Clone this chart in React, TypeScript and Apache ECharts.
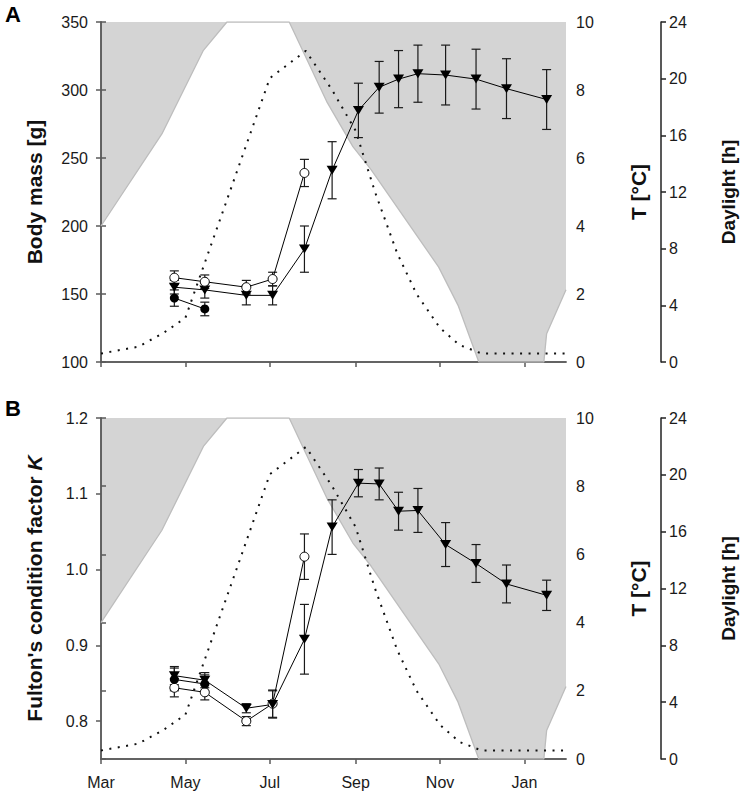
import React, { useEffect, useRef } from "react";
import * as echarts from "echarts";

// ---------- data ----------
const axisStartDate = "2014-03-01";
const axisEndDate = "2015-01-31";
const monthTickDates = ["2014-03-01", "2014-05-01", "2014-07-01", "2014-09-01", "2014-11-01", "2015-01-01"];
const monthTickLabels = ["Mar", "May", "Jul", "Sep", "Nov", "Jan"];

const triDates = ["2014-04-23", "2014-05-15", "2014-06-14", "2014-07-03", "2014-07-26", "2014-08-15", "2014-09-03", "2014-09-18", "2014-10-02", "2014-10-16", "2014-11-05", "2014-11-27", "2014-12-19", "2015-01-17"];
const openDates = ["2014-04-23", "2014-05-15", "2014-06-14", "2014-07-03", "2014-07-26"];
const filledDates = ["2014-04-23", "2014-05-15"];

const massTri = [155, 153, 149, 149, 183, 241, 285, 302, 308, 312, 311, 308, 301, 293];
const massTriErr = [5, 6, 7, 7, 17, 21, 20, 19, 21, 21, 22, 22, 22, 22];
const massOpen = [162, 159, 155, 161, 239];
const massOpenErr = [5, 5, 5, 5, 10];
const massFilled = [147, 139];
const massFilledErr = [6, 5];

const condTri = [0.86, 0.854, 0.817, 0.822, 0.908, 1.056, 1.114, 1.113, 1.077, 1.078, 1.033, 1.008, 0.981, 0.966];
const condTriErr = [0.012, 0.01, 0.006, 0.018, 0.046, 0.036, 0.018, 0.021, 0.025, 0.029, 0.029, 0.025, 0.025, 0.02];
const condOpen = [0.844, 0.838, 0.8, 0.823, 1.017];
const condOpenErr = [0.012, 0.01, 0.006, 0.018, 0.03];
const condFilled = [0.855, 0.849];
const condFilledErr = [0.015, 0.012];

const tempDates = ["2014-03-01", "2014-03-28", "2014-04-15", "2014-05-01", "2014-07-01", "2014-07-27", "2014-08-15", "2014-09-01", "2014-09-15", "2014-10-01", "2014-10-15", "2014-11-01", "2014-11-15", "2014-12-01", "2015-01-31"];
const tempValues = [0.25, 0.45, 0.85, 1.3, 8.35, 9.15, 8.0, 6.8, 5.0, 3.2, 2.0, 1.0, 0.5, 0.25, 0.25];

const daylightDates = ["2014-03-01", "2014-04-14", "2014-05-14", "2014-05-31", "2014-07-15", "2014-08-11", "2014-08-30", "2014-09-12", "2014-10-31", "2014-11-14", "2014-11-29", "2015-01-15", "2015-01-17", "2015-01-31"];
const daylightHours = [9.6, 16.1, 22.0, 24, 24, 18.4, 15.2, 13.6, 6.7, 4.0, 0, 0, 2.0, 5.1];

const massTicks = { min: 100, max: 350, interval: 50 };
const condTickValues = [0.8, 0.9, 1.0, 1.1, 1.2];
const condRange = { min: 0.75, max: 1.2 };
const tempTicks = { min: 0, max: 10, interval: 2 };
const dayTicks = { min: 0, max: 24, interval: 4 };

// ---------- helpers ----------
function dayIndex(s: string): number {
  const [y, m, d] = s.split("-").map(Number);
  const [y0, m0, d0] = axisStartDate.split("-").map(Number);
  return (Date.UTC(y, m - 1, d) - Date.UTC(y0, m0 - 1, d0)) / 86400000;
}

const FONT = "Arial, 'Liberation Sans', sans-serif";
const AXIS_COLOR = "#5a5a5a";
const monthDays = monthTickDates.map(dayIndex);
const xMax = dayIndex(axisEndDate);

function pairs(dates: string[], vals: number[]) {
  return dates.map((d, i) => [dayIndex(d), vals[i]]);
}

function errorSeries(dates: string[], vals: number[], errs: number[], xi: number, yi: number) {
  return {
    type: "custom",
    xAxisIndex: xi,
    yAxisIndex: yi,
    z: 5,
    silent: true,
    clip: false,
    encode: { x: 0, y: [1, 2] },
    data: dates.map((d, i) => [dayIndex(d), vals[i] - errs[i], vals[i] + errs[i]]),
    renderItem: (_params: any, api: any) => {
      const x = api.value(0);
      const lo = api.coord([x, api.value(1)]);
      const hi = api.coord([x, api.value(2)]);
      const hw = 4.5;
      const style = { stroke: "#1a1a1a", lineWidth: 1.2, fill: null };
      return {
        type: "group",
        children: [
          { type: "line", shape: { x1: lo[0], y1: lo[1], x2: hi[0], y2: hi[1] }, style },
          { type: "line", shape: { x1: lo[0] - hw, y1: lo[1], x2: lo[0] + hw, y2: lo[1] }, style },
          { type: "line", shape: { x1: hi[0] - hw, y1: hi[1], x2: hi[0] + hw, y2: hi[1] }, style },
        ],
      };
    },
  };
}

function markerSeries(dates: string[], vals: number[], kind: "tri" | "open" | "filled", xi: number, yi: number) {
  const base: any = {
    type: "line",
    xAxisIndex: xi,
    yAxisIndex: yi,
    z: 6,
    data: pairs(dates, vals),
    showAllSymbol: true,
    lineStyle: { color: "#000", width: 1 },
    emphasis: { disabled: true },
  };
  if (kind === "tri") {
    base.symbol = "triangle";
    base.symbolRotate = 180;
    base.symbolSize = [11, 9];
    base.itemStyle = { color: "#000" };
  } else if (kind === "open") {
    base.symbol = "circle";
    base.symbolSize = 9;
    base.itemStyle = { color: "#fff", borderColor: "#000", borderWidth: 1 };
  } else {
    base.symbol = "circle";
    base.symbolSize = 9;
    base.itemStyle = { color: "#000" };
  }
  return base;
}

function envSeries(xi: number, yiT: number, yiD: number) {
  return [
    {
      type: "line",
      xAxisIndex: xi,
      yAxisIndex: yiD,
      z: 1,
      silent: true,
      symbol: "none",
      data: pairs(daylightDates, daylightHours),
      lineStyle: { width: 0, opacity: 0 },
      areaStyle: { color: "#d4d4d4", opacity: 1, origin: "end" },
    },
    {
      type: "line",
      xAxisIndex: xi,
      yAxisIndex: yiD,
      z: 3,
      silent: true,
      symbol: "none",
      data: pairs(daylightDates, daylightHours),
      lineStyle: { width: 1.3, color: "#bdbdbd" },
    },
    {
      type: "line",
      xAxisIndex: xi,
      yAxisIndex: yiT,
      z: 4,
      silent: true,
      symbol: "none",
      data: pairs(tempDates, tempValues),
      lineStyle: { width: 2, color: "#111", type: [2, 6.5] },
    },
  ];
}

const axisLine = { show: true, lineStyle: { color: AXIS_COLOR, width: 1.5 } };
const axisTick = { show: true, inside: false, length: 5, lineStyle: { color: AXIS_COLOR, width: 1.5 } };
const labelStyle = { fontFamily: FONT, fontSize: 16, color: "#1a1a1a" };
const nameStyle = { fontFamily: FONT, fontSize: 21, fontWeight: "bold", color: "#111" };

function xAxes(gridIndex: number, showLabels: boolean) {
  return [
    {
      type: "value",
      gridIndex,
      position: "bottom",
      min: 0,
      max: xMax,
      z: 2,
      axisLine,
      axisTick: { ...axisTick, customValues: monthDays },
      splitLine: { show: false },
      axisLabel: {
        show: showLabels,
        ...labelStyle,
        margin: 15,
        customValues: monthDays,
        formatter: (v: number) => {
          const i = monthDays.indexOf(Math.round(v));
          return i >= 0 ? monthTickLabels[i] : "";
        },
      },
    },
    {
      type: "value",
      gridIndex,
      position: "top",
      min: 0,
      max: xMax,
      z: 2,
      axisLine,
      axisTick: { show: false },
      axisLabel: { show: false },
      splitLine: { show: false },
    },
  ];
}

function rightAxes(gridIndex: number) {
  return [
    {
      type: "value",
      gridIndex,
      position: "right",
      ...tempTicks,
      z: 2,
      name: "T [°C]",
      nameLocation: "middle",
      nameGap: 62,
      nameTextStyle: nameStyle,
      axisLine,
      axisTick,
      splitLine: { show: false },
      axisLabel: { ...labelStyle, margin: 10 },
    },
    {
      type: "value",
      gridIndex,
      position: "right",
      offset: 95,
      ...dayTicks,
      z: 2,
      name: "Daylight [h]",
      nameLocation: "middle",
      nameGap: 58,
      nameTextStyle: { ...nameStyle, fontSize: 19 },
      axisLine: { show: true, lineStyle: { color: "#222", width: 1.5 } },
      axisTick: { ...axisTick, lineStyle: { color: "#222", width: 1.5 } },
      splitLine: { show: false },
      axisLabel: { ...labelStyle, margin: 8 },
    },
  ];
}

export default function App() {
  const ref = useRef<HTMLDivElement>(null);
  useEffect(() => {
    document.body.style.margin = "0";
    const chart = echarts.init(ref.current!, null, { renderer: "svg" });
    const option: any = {
      animation: false,
      backgroundColor: "#fff",
      grid: [
        { left: 101, top: 22, width: 471, height: 340, containLabel: false },
        { left: 101, top: 418, width: 471, height: 341, containLabel: false },
      ],
      xAxis: [...xAxes(0, false), ...xAxes(1, true)],
      yAxis: [
        {
          type: "value",
          gridIndex: 0,
          position: "left",
          ...massTicks,
          z: 2,
          name: "Body mass [g]",
          nameLocation: "middle",
          nameGap: 56,
          nameTextStyle: nameStyle,
          axisLine,
          axisTick,
          splitLine: { show: false },
          axisLabel: { ...labelStyle, margin: 13 },
        },
        ...rightAxes(0),
        {
          type: "value",
          gridIndex: 1,
          position: "left",
          ...condRange,
          z: 2,
          name: "Fulton's condition factor {i|K}",
          nameLocation: "middle",
          nameGap: 56,
          nameTextStyle: {
            ...nameStyle,
            rich: { i: { ...nameStyle, fontStyle: "italic" } },
          },
          axisLine,
          axisTick: { ...axisTick, customValues: condTickValues },
          splitLine: { show: false },
          axisLabel: {
            ...labelStyle,
            margin: 13,
            customValues: condTickValues,
            formatter: (v: number) => v.toFixed(1),
          },
        },
        ...rightAxes(1),
      ],
      graphic: [
        { type: "text", left: 5, top: 3, style: { text: "A", font: `bold 22px ${FONT}`, fill: "#000" } },
        { type: "text", left: 5, top: 397, style: { text: "B", font: `bold 22px ${FONT}`, fill: "#000" } },
      ],
      series: [
        // panel A: xAxis 0, yAxes 0 (mass), 1 (T), 2 (daylight)
        ...envSeries(0, 1, 2),
        errorSeries(triDates, massTri, massTriErr, 0, 0),
        errorSeries(openDates, massOpen, massOpenErr, 0, 0),
        errorSeries(filledDates, massFilled, massFilledErr, 0, 0),
        markerSeries(triDates, massTri, "tri", 0, 0),
        markerSeries(openDates, massOpen, "open", 0, 0),
        markerSeries(filledDates, massFilled, "filled", 0, 0),
        // panel B: xAxis 2, yAxes 3 (K), 4 (T), 5 (daylight)
        ...envSeries(2, 4, 5),
        errorSeries(triDates, condTri, condTriErr, 2, 3),
        errorSeries(openDates, condOpen, condOpenErr, 2, 3),
        errorSeries(filledDates, condFilled, condFilledErr, 2, 3),
        markerSeries(openDates, condOpen, "open", 2, 3),
        markerSeries(filledDates, condFilled, "filled", 2, 3),
        markerSeries(triDates, condTri, "tri", 2, 3),
      ],
    };
    chart.setOption(option);
    return () => chart.dispose();
  }, []);
  return <div ref={ref} style={{ position: "absolute", left: 0, top: 0, width: 746, height: 792 }} />;
}
